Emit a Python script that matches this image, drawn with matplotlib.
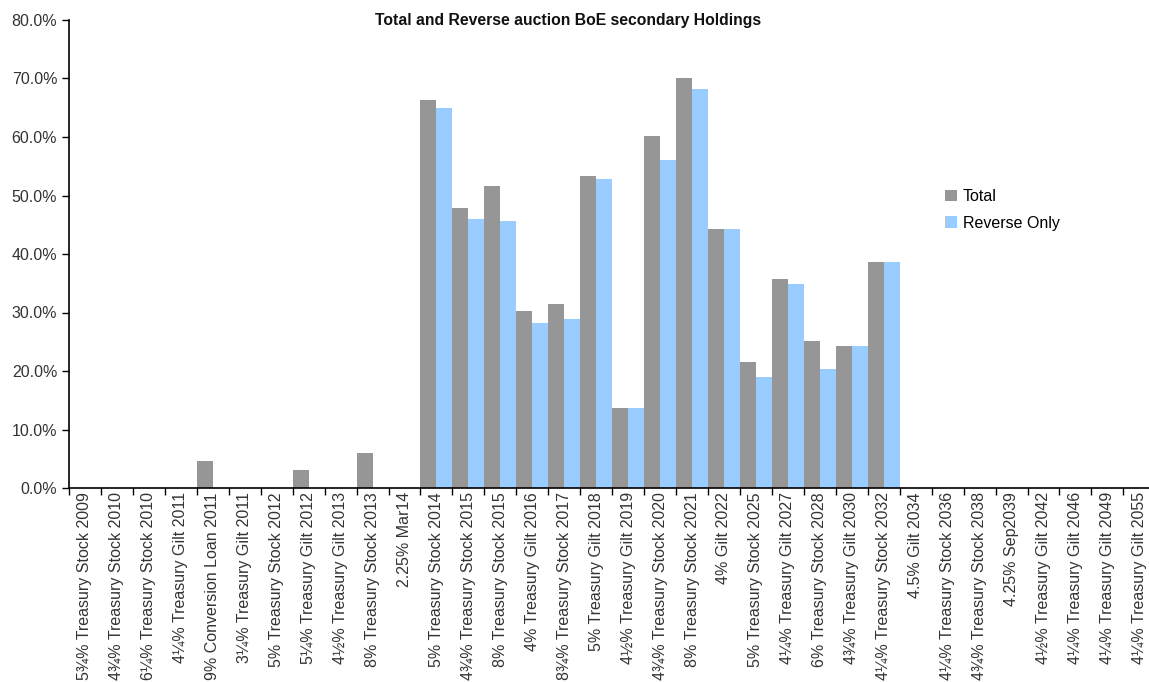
import numpy as np
import matplotlib
matplotlib.use('Agg')
import matplotlib.pyplot as plt
from matplotlib.ticker import FuncFormatter, FixedLocator

plt.rcParams['font.family'] = ['Liberation Sans', 'DejaVu Sans']

gilts = ['5¾% Treasury Stock 2009', '4¾% Treasury Stock 2010', '6¼% Treasury Stock 2010',
         '4¼% Treasury Gilt 2011', '9% Conversion Loan 2011', '3¼% Treasury Gilt 2011',
         '5% Treasury Stock 2012', '5¼% Treasury Gilt 2012', '4½% Treasury Gilt 2013',
         '8% Treasury Stock 2013', '2.25% Mar14', '5% Treasury Stock 2014',
         '4¾% Treasury Stock 2015', '8% Treasury Stock 2015', '4% Treasury Gilt 2016',
         '8¾% Treasury Stock 2017', '5% Treasury Gilt 2018', '4½% Treasury Gilt 2019',
         '4¾% Treasury Stock 2020', '8% Treasury Stock 2021', '4% Gilt 2022',
         '5% Treasury Stock 2025', '4¼% Treasury Gilt 2027', '6% Treasury Stock 2028',
         '4¾% Treasury Gilt 2030', '4¼% Treasury Stock 2032', '4.5% Gilt 2034',
         '4¼% Treasury Stock 2036', '4¾% Treasury Stock 2038', '4.25% Sep2039',
         '4½% Treasury Gilt 2042', '4¼% Treasury Gilt 2046', '4¼% Treasury Gilt 2049',
         '4¼% Treasury Gilt 2055']

total = [0, 0, 0, 0, 4.7, 0, 0, 3.0, 0, 5.9, 0, 66.4,
         47.8, 51.7, 30.3, 31.4, 53.3, 13.7, 60.2, 70.0, 44.3, 21.5,
         35.8, 25.2, 24.3, 38.7, 0, 0, 0, 0, 0, 0, 0, 0]
reverse_only = [0, 0, 0, 0, 0, 0, 0, 0, 0, 0, 0, 65.0,
                45.9, 45.7, 28.2, 28.9, 52.8, 13.7, 56.1, 68.2, 44.3, 19.0,
                34.9, 20.3, 24.3, 38.7, 0, 0, 0, 0, 0, 0, 0, 0]

W, H = 1149, 682
fig = plt.figure(figsize=(W / 100, H / 100), dpi=100)
# axis is cropped on the right in the original
ax = fig.add_axes([69 / W, (H - 488) / H, 34 * 31.95 / W, 468 / H])

x = np.arange(len(gilts))
ax.bar(x, total, width=0.5, align='edge', color='#969696', label='Total', zorder=2)
ax.bar(x + 0.5, reverse_only, width=0.5, align='edge', color='#99CCFF', label='Reverse Only', zorder=2)

ax.set_xlim(0, len(gilts))
ax.set_ylim(0, 80)
ax.set_yticks(np.arange(0, 81, 10))
ax.yaxis.set_major_formatter(FuncFormatter(lambda v, p: f'{v:.1f}%'))

ax.xaxis.set_major_locator(FixedLocator(np.arange(0, len(gilts) + 1)))
ax.xaxis.set_major_formatter(plt.NullFormatter())
ax.xaxis.set_minor_locator(FixedLocator(x + 0.5))
ax.set_xticklabels(gilts, minor=True, rotation=90, fontsize=11.5, color='#333333')
ax.tick_params(axis='x', which='minor', length=0, pad=3)
ax.tick_params(axis='x', which='major', length=5, width=1)
ax.tick_params(axis='y', length=5, width=1, labelsize=11.5, labelcolor='#333333')

for s in ['top', 'right']:
    ax.spines[s].set_visible(False)
ax.spines['left'].set_linewidth(1.2)
ax.spines['bottom'].set_linewidth(1.2)

fig.text(568 / W, 1 - 21 / H, 'Total and Reverse auction BoE secondary Holdings',
         ha='center', va='center', fontsize=11.3, fontweight='bold', color='#111111')

ax.legend(loc='upper left', bbox_to_anchor=(931 / W, 1 - 175 / H),
          bbox_transform=fig.transFigure, frameon=False, fontsize=11.5,
          handlelength=0.7, handleheight=0.7, handletextpad=0.4, labelspacing=0.7)

fig.savefig('out.png', dpi=100)
